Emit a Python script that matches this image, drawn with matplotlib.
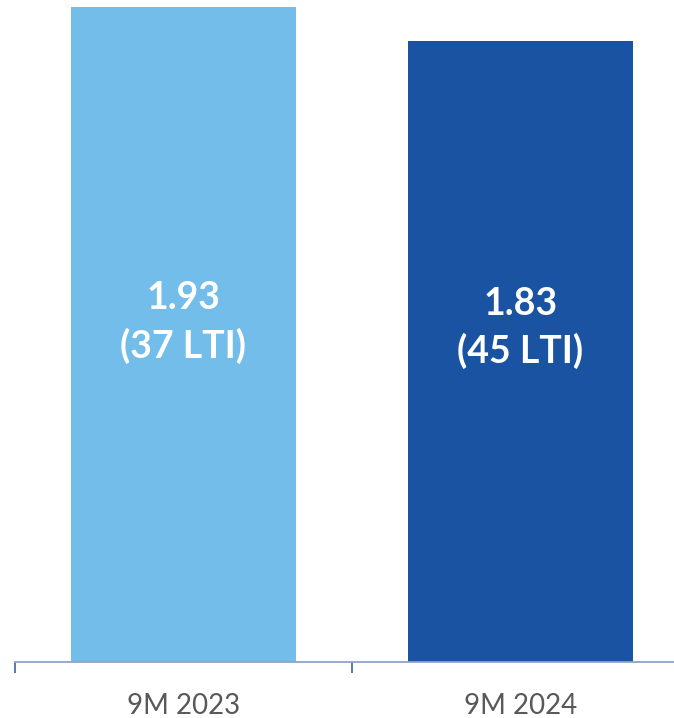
import matplotlib
matplotlib.use("Agg")
import matplotlib.pyplot as plt
from matplotlib.ticker import FixedLocator, NullFormatter, FixedFormatter

periods = ["9M 2023", "9M 2024"]
ltifr = [1.93, 1.83]
lti_counts = [37, 45]
bar_colors = ["#72BDE9", "#1953A1"]

plt.rcParams["font.family"] = ["Lato", "DejaVu Sans"]

fig = plt.figure(figsize=(6.74, 7.18), dpi=100)
ax = fig.add_axes([15 / 674, 56 / 718, 1.0, 662 / 718])

x = list(range(len(periods)))
ax.bar(x, ltifr, width=0.67, color=bar_colors, zorder=1)

# value + LTI count inside each bar
label_y = [1.0, 0.985]
for xi, val, n, yy in zip(x, ltifr, lti_counts, label_y):
    ax.text(xi, yy, f"{val:.2f}\n({n} LTI)", ha="center", va="center",
            color="white", fontsize=27, fontweight="bold", linespacing=1.4)

ax.set_xlim(-0.5, 1.5)
ax.set_ylim(0, 1.9505)

for side in ["top", "left", "right"]:
    ax.spines[side].set_visible(False)
ax.spines["bottom"].set_color("#8FA4CB")
ax.spines["bottom"].set_linewidth(1.3)
ax.set_yticks([])

# category separators as major ticks, names on minor ticks
ax.xaxis.set_major_locator(FixedLocator([-0.5, 0.5, 1.5]))
ax.xaxis.set_major_formatter(NullFormatter())
ax.xaxis.set_minor_locator(FixedLocator(x))
ax.xaxis.set_minor_formatter(FixedFormatter(periods))
ax.tick_params(axis="x", which="major", length=8, width=1.3, color="#4A70AC")
ax.tick_params(axis="x", which="minor", length=0, pad=22, labelsize=20,
               labelcolor="#595959")

fig.savefig("out.png", dpi=100)
